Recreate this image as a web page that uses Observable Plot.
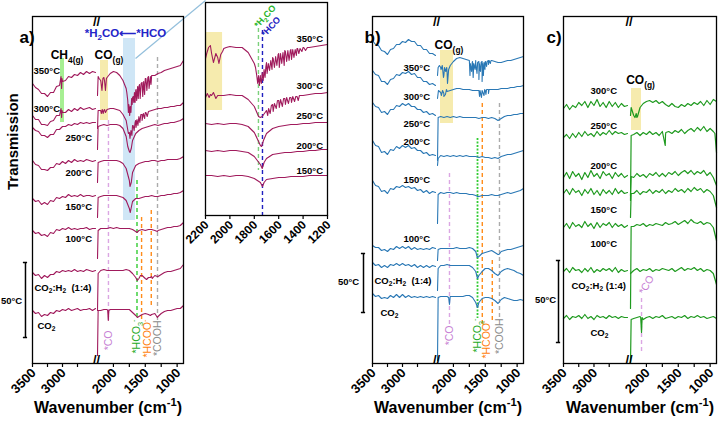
<!DOCTYPE html>
<html><head><meta charset="utf-8">
<script src="https://cdn.jsdelivr.net/npm/d3@7"></script>
<script src="https://cdn.jsdelivr.net/npm/@observablehq/plot@0.6"></script>
<style>
body{margin:0;background:#fff;}
#root{position:relative;width:720px;height:424px;overflow:hidden;}
#root svg{position:absolute;top:0;overflow:visible;}
</style></head><body><div id="root"></div>
<script>
// ---------------- DATA ----------------
const LGRID = d3.range(22).map(i => 3500 - 50 * i);
const RGRID = d3.range(28).map(i => 2250 - 50 * i);
const IGRID = d3.range(21).map(i => 2200 - 50 * i);
const XBREAK = [3500, 2450, 2250, 900];   // broken wavenumber axis

// Panel a – stacked baselines (a.u.) and dip depths (a.u., positive = lower transmission)
const aOffsets = [291, 255, 239, 203, 168, 135, 93, 54];
const a350L = [11,15,17,21,21,24,20,20,14,13,9,8,4,5,2,3,0,2,-1,1,-1,0];
const a350R = [23,8,5,5,1,-1,0,3,8,16,36,25,18,14,10,6,4,3,3,1,0,-2,-3,-4,-5,-6,-7,-12];
const a350F = [[3025,4],[3015,16],[3008,6],[2240,4],[2225,6],[2195,10],[2180,18],[2165,6],[2140,8],[2125,18],[2110,6],[1790,20],[1775,28],[1765,40],[1758,32],[1745,43],[1735,34],[1725,40],[1715,26],[1705,32],[1690,24],[1680,30],[1670,20],[1660,30],[1645,17],[1635,28],[1620,14],[1610,26],[1590,12],[1580,26],[1565,11],[1540,24],[1525,9],[1510,22],[1490,6],[1475,18],[1460,5],[1440,16],[1420,4],[1410,12]];
const a300L = [7,11,11,16,16,17,13,12,7,7,4,4,1,3,0,2,-1,1,0,-1,1,0];
const a300R = [20,2,2,1,0,0,1,2,6,12,24,17,12,8,6,4,3,2,1,0,0,-1,-1,-2,-2,-3,-3,-6];
const a300F = [[3025,0],[3015,9],[3008,2],[2240,2],[2190,5],[2175,1],[2160,5],[2140,1],[2125,4],[1765,25],[1740,30],[1725,22],[1710,27],[1690,17],[1675,22],[1660,14],[1645,19],[1630,11],[1615,17],[1600,8],[1585,14],[1570,6],[1550,12],[1530,5],[1510,10],[1490,4],[1470,8]];
const a250L = [3,6,7,11,11,13,10,10,5,5,2,2,0,1,-1,0,-2,-1,-2,-1,-2,-2];
const a250R = [25,1,0,1,0,0,0,1,4,12,27,16,9,6,4,3,2,1,0,1,0,-1,-1,-2,-2,-3,-4,-6];
const a250F = [[2240,2],[1775,22],[1740,28],[1720,24]];
const a200L = [0,4,5,9,9,10,7,7,3,4,1,3,0,2,-1,1,0,1,-1,0,1,0];
const a200R = [22,1,0,0,0,0,0,1,3,8,20,12,5,3,2,1,1,0,0,1,0,0,-1,-1,-1,-1,-2,-4];
const a200F = [[2240,2],[1740,26],[1720,22]];
const a150L = [3,6,5,9,7,9,5,6,2,3,1,2,-1,1,0,1,-1,1,0,0,1,0];
const a150R = [22,1,0,0,0,0,0,1,2,5,13,6,3,3,2,1,1,0,1,1,0,0,-1,-1,-2,-2,-3,-5];
const a150F = [[2240,2],[1735,17],[1720,12]];
const a100L = [2,5,4,7,6,8,4,5,1,2,0,1,-1,1,0,1,0,0,-1,1,0,0];
const a100R = [30,0,0,0,-1,0,-1,0,0,0,0,1,3,2,1,2,1,1,2,2,1,0,-1,-1,-2,-2,-3,-6];
const a100F = [[2240,2],[1630,4],[1310,3]];
const aMixL = [2,5,4,8,5,7,4,4,1,2,0,1,0,1,-1,1,0,1,-1,0,1,0];
const aMixR = [40,0,-1,0,0,0,0,0,0,-1,0,3,7,8,5,8,7,6,5,6,4,2,1,1,0,-1,-2,-6];
const aMixF = [[2240,3],[1625,10],[1575,5],[1480,9],[1420,7],[1390,8],[1310,6]];
const aCO2L = [1,4,3,7,5,6,3,4,1,2,0,1,-1,1,0,-1,1,0,0,-1,1,-1];
const aCO2R = [46,1,0,0,0,0,0,0,0,0,0,3,6,7,5,4,5,5,4,7,4,2,1,1,0,-1,-1,-4];
const aCO2F = [[2240,1],[2090,1],[2080,11],[2072,1],[1625,8],[1420,6],[1310,8]];
const aTempText = ["350°C","300°C","250°C","200°C","150°C","100°C","CO_{2}:H_{2}  (1:4)","CO_{2}"];
const aTempWn = [3483,3483,2950,2950,2950,2950,3467,3417];
const aTempV = [293,255,226,191,157,125,76,38];
const aDashWn = [2078,1630,1558,1406,1308];
const aDashTop = [243,183,146,153,306];
const aDashBot = [41,45,43,58,40];
const aDashCol = ["#dba6e3","#33cc33","#ff8c1a","#ff8c1a","#ababab"];
const aTagText = ["*CO","*HCO_{3}^{-}","*HCOO^{-}","*COOH"];
const aTagWn = [2078,1632,1465,1308];
const aTagV = [33,44,44,43];
const aTagCol = ["#c77fd4","#1faa1f","#ff7f0e","#8c8c8c"];
const aBandLo = [3033,2203,1842];
const aBandHi = [2967,2077,1653];
const aBandBot = [241,243,143];
const aBandTop = [305,303,325];
const aBandCol = ["#a6ef92","#f6ebae","#cfe6f6"];

// Inset (2200–1200 cm-1)
const iOffsets = [170,120,92,65,40];
const i350R = [13,8,12,3,1,2,2,7,18,30,17,12,8,5,4,3,2,2,1,0,-1];
const i350F = [[2190,8],[2175,2],[2160,0],[2135,17],[2115,8],[2090,18],[2075,9],[2060,6],[2030,2],[1790,22],[1780,30],[1772,38],[1765,30],[1758,40],[1750,32],[1742,38],[1735,27],[1727,35],[1720,24],[1712,32],[1705,21],[1695,28],[1685,18],[1675,25],[1665,15],[1655,24],[1645,13],[1635,22],[1625,11],[1615,20],[1605,9],[1595,22],[1585,8],[1575,18],[1565,7],[1555,20],[1545,6],[1535,16],[1525,5],[1515,15],[1505,5],[1495,14],[1485,4],[1475,12],[1465,4],[1455,10],[1445,3],[1435,8],[1425,3],[1410,6],[1395,2],[1380,5],[1365,2]];
const i300R = [2,0,0,0,-1,0,0,4,11,22,15,9,5,3,2,1,0,-1,-2,-2,-3];
const i300F = [[2185,-2],[2170,2],[2160,-1],[2135,-3],[2115,3],[2090,0],[1765,21],[1735,21],[1690,20],[1683,13],[1670,18],[1660,10],[1645,16],[1635,8],[1620,13],[1610,5],[1595,12],[1585,4],[1570,11],[1560,3],[1545,9],[1535,2],[1520,8],[1510,2],[1495,7],[1485,1],[1470,6],[1460,1],[1440,5],[1430,0]];
const i250R = [0,1,0,1,0,0,1,3,9,22,10,5,3,2,1,1,0,0,-1,-1,-1];
const i250F = [[1765,18],[1740,23],[1725,17]];
const i200R = [0,1,0,1,0,0,1,2,6,14,8,4,3,2,2,1,1,0,0,-1,-1];
const i200F = [[1735,18],[1720,12]];
const i150R = [0,0,1,0,1,0,0,1,3,7,4,3,2,2,1,1,1,0,0,0,0];
const i150F = [[1733,11],[1720,7]];
const iTempText = ["350°C","300°C","250°C","200°C","150°C"];
const iTempV = [177,130,100,70,45];

// Panel b
const bOffsets = [306,275,248,208,171,115,98,67];
const b350L = [-17,-13,-12,-7,-6,-3,-8,-9,-13,-13,-16,-15,-18,-16,-16,-12,-12,-8,-8,-4,-4,-2];
const b350R = [18,10,18,14,8,4,1,0,1,2,3,4,3,4,4,4,3,3,4,5,5,4,3,3,2,1,0,-1];
const b350F = [[2240,10],[2220,8],[2195,12],[2175,8],[2156,20],[2140,10],[2120,14],[2105,10],[2093,26],[2075,12],[1740,18],[1735,6],[1715,14],[1705,5],[1690,20],[1680,6],[1660,12],[1650,5],[1630,16],[1620,5],[1600,22],[1592,6],[1575,14],[1565,5],[1550,24],[1542,6],[1530,18],[1520,5],[1505,12],[1495,4],[1480,9],[1470,4],[1450,7],[1440,3],[1420,6],[1410,3]];
const b300L = [-18,-14,-13,-7,-7,-4,-9,-10,-14,-13,-16,-15,-17,-14,-15,-11,-11,-7,-7,-4,-5,-3];
const b300R = [10,4,5,3,2,1,0,0,1,1,1,2,2,2,2,2,1,1,1,1,0,0,0,-1,-1,-2,-2,-3];
const b300F = [[2235,2],[2190,7],[2170,2],[2150,8],[2125,6],[2110,1],[1590,8],[1582,2],[1560,9],[1550,2],[1520,7],[1510,1],[1490,6],[1480,1],[1450,5],[1440,1]];
const b250L = [-13,-9,-8,-3,-4,-1,-6,-6,-10,-9,-12,-10,-12,-9,-9,-6,-6,-3,-4,-1,-2,0];
const b250R = [45,1,2,1,2,1,2,1,2,2,2,2,2,3,2,2,3,2,3,5,3,1,0,0,-1,-1,-2,-2];
const b250F = [[2240,2]];
const b200L = [-15,-10,-9,-3,-4,-1,-6,-5,-9,-7,-10,-8,-10,-7,-8,-5,-5,-2,-3,0,-1,0];
const b200R = [10,0,1,0,1,0,1,0,1,0,1,1,1,2,1,2,2,3,2,3,1,0,-1,-1,-2,-3,-4,-5];
const b200F = [[2240,3]];
const b150L = [-12,-7,-6,-1,-2,1,-4,-3,-6,-5,-7,-5,-6,-4,-5,-2,-3,0,-2,1,-1,0];
const b150R = [31,0,1,0,0,1,0,1,1,1,2,2,3,4,3,3,3,2,3,3,2,1,0,1,0,-1,-2,-4];
const b150F = [[2240,2],[1620,4]];
const b100L = [-3,-1,-1,2,1,3,0,1,-2,0,-2,0,-2,1,-1,1,0,1,0,1,-1,0];
const b100R = [12,0,0,0,0,0,-1,0,0,0,-1,0,3,8,5,4,3,2,4,6,3,2,1,1,0,-1,-2,-3];
const b100F = [[2240,1],[1625,9],[1285,6]];
const bMixL = [-3,0,-1,2,0,2,-1,0,-2,0,-2,0,-1,1,-1,2,0,2,0,2,0,1];
const bMixR = [25,0,0,-1,0,0,0,0,0,0,0,2,6,10,6,3,3,5,8,10,6,4,3,4,5,7,8,10];
const bMixF = [[2240,3],[1622,13]];
const bCO2L = [-3,0,-1,2,1,2,-1,1,-2,1,-2,1,-1,1,0,1,0,1,0,1,0,1];
const bCO2R = [64,0,0,0,0,0,0,0,0,-1,-1,1,6,6,2,1,1,2,4,7,3,1,2,3,4,4,3,4];
const bCO2F = [[2240,1],[2075,1],[2062,8],[2052,1],[1622,11]];
const bTempText = ["350°C","300°C","250°C","200°C","150°C","100°C","CO_{2}:H_{2}  (1:4)","CO_{2}"];
const bTempWn = [2983,2983,2983,2983,2983,2983,3467,3367];
const bTempV = [296,267,240,222,184,125,83,51];
const bDashWn = [2062,1547,1390,1277];
const bDashTop = [190,260,103,260];
const bDashBot = [38,38,41,43];
const bDashCol = ["#dba6e3","#ff8c1a","#ff8c1a","#ababab"];
const bDotWn = [1622], bDotTop = [225], bDotBot = [45];
const bTagText = ["*CO","*HCO_{3}^{-}","*HCOO^{-}","*COOH"];
const bTagWn = [2062,1622,1481,1277];
const bTagV = [38,45,43,45];
const bBandLo = [2203], bBandHi = [1999], bBandBot = [240], bBandTop = [313];

// Panel c
const cOffsets = [258,230,188,171,138,93,46];
const c300L = [3,-1,4,0,2,-3,0,-4,2,-4,0,-6,1,-3,2,-4,1,-3,2,-2,1,0];
const c300R = [10,10,12,2,-2,-4,-5,-3,-5,-2,-4,-1,1,-2,1,2,-1,1,-2,0,-3,-1,-4,0,-5,-1,-6,-4];
const c300F = [[2240,2],[2180,12],[2160,8],[2140,11]];
const c250L = [4,1,5,0,4,-1,3,-2,2,0,3,-2,2,-1,1,-3,1,-2,0,-1,1,0];
const c250R = [67,1,-1,2,-1,1,-2,1,-1,2,-2,1,-2,0,-3,-1,-4,0,-3,-5,-2,-6,-3,-7,-2,-5,-2,19];
const c250F = [[2240,2],[1705,12],[1695,-1],[925,0]];
const c200L = [2,-3,3,-4,1,-2,4,-3,2,-5,1,-2,3,-4,0,-2,3,-3,1,-2,2,0];
const c200R = [20,2,-2,1,-1,2,-2,0,-3,1,-2,1,-3,-1,-4,0,-3,-5,-2,-5,-1,-4,-2,-5,0,-3,2,10];
const c200F = [[2240,1]];
const c150L = [1,-3,2,-4,0,-2,3,-3,1,-4,2,-2,3,-3,1,-2,2,-4,1,-2,1,0];
const c150R = [25,1,-2,2,-1,0,-3,1,-2,0,-3,1,-2,0,-4,-1,-3,0,-4,-1,-5,-2,-4,0,-3,-1,3,15];
const c150F = [[2240,1]];
const c100L = [2,-2,3,-3,1,-1,2,-4,1,-2,3,-3,2,-2,0,-3,2,-2,1,-1,2,0];
const c100R = [83,1,-1,0,-2,1,-1,0,-2,-1,0,-3,-1,-2,-4,-1,-3,-5,-2,-6,-3,-2,-4,-1,-3,-2,2,15];
const c100F = [[2240,1]];
const cMixL = [1,-2,2,-3,0,-1,2,-2,1,-3,2,-1,1,-2,0,-2,1,-3,2,-1,1,0];
const cMixR = [3,0,-2,1,-1,0,-2,1,-1,0,-2,-1,0,-2,1,-1,-3,0,-2,-1,-3,0,-2,1,-1,0,3,14];
const cMixF = [];
const cCO2L = [1,-2,2,-1,0,-2,1,-3,1,-1,2,-2,0,-1,1,-2,0,-1,1,-1,0,0];
const cCO2R = [46,1,0,-1,2,0,-1,1,-1,0,-2,1,0,-1,1,-1,0,-2,1,-1,0,-2,0,-1,1,0,-1,1];
const cCO2F = [[2240,2],[2090,0],[2077,15],[2068,0]];
const cTempText = ["300°C","250°C","200°C","150°C","100°C","CO_{2}:H_{2} (1:4)","CO_{2}"];
const cTempWn = [3057,3057,3057,3057,3057,3369,3057];
const cTempV = [273,238,198,154,120,78,31];

const xTicks = [3500,3000,2000,1500,1000];
const xMinor = [3250,2750,1750,1250];
const iTicks = [2200,2000,1800,1600,1400,1200];

// ---------------- BUILD ----------------
const wxAB = d3.scaleLinear().domain(XBREAK).range([0, 63, 65, 151]);
const wxC = d3.scaleLinear().domain(XBREAK).range([0, 64, 67, 153]);
const wxI = d3.scaleLinear().domain([2200, 1200]).range([0, 122]);

function spectrum(key, off, L, R, F, rgrid) {
  const pts = [];
  (L || []).forEach((d, i) => pts.push([LGRID[i], d]));
  R.forEach((d, i) => pts.push([rgrid[i], d]));
  (F || []).forEach(p => pts.push(p));
  return pts.map(([wn, d]) => ({key: key + (wn > 2350 ? "L" : "R"), wn, v: off - d}))
            .sort((a, b) => b.wn - a.wn);
}
const aData = [
  spectrum("350", aOffsets[0], a350L, a350R, a350F, RGRID),
  spectrum("300", aOffsets[1], a300L, a300R, a300F, RGRID),
  spectrum("250", aOffsets[2], a250L, a250R, a250F, RGRID),
  spectrum("200", aOffsets[3], a200L, a200R, a200F, RGRID),
  spectrum("150", aOffsets[4], a150L, a150R, a150F, RGRID),
  spectrum("100", aOffsets[5], a100L, a100R, a100F, RGRID),
  spectrum("mix", aOffsets[6], aMixL, aMixR, aMixF, RGRID),
  spectrum("co2", aOffsets[7], aCO2L, aCO2R, aCO2F, RGRID)
].flat();
const iData = [
  spectrum("350", iOffsets[0], null, i350R, i350F, IGRID),
  spectrum("300", iOffsets[1], null, i300R, i300F, IGRID),
  spectrum("250", iOffsets[2], null, i250R, i250F, IGRID),
  spectrum("200", iOffsets[3], null, i200R, i200F, IGRID),
  spectrum("150", iOffsets[4], null, i150R, i150F, IGRID)
].flat();
const bData = [
  spectrum("350", bOffsets[0], b350L, b350R, b350F, RGRID),
  spectrum("300", bOffsets[1], b300L, b300R, b300F, RGRID),
  spectrum("250", bOffsets[2], b250L, b250R, b250F, RGRID),
  spectrum("200", bOffsets[3], b200L, b200R, b200F, RGRID),
  spectrum("150", bOffsets[4], b150L, b150R, b150F, RGRID),
  spectrum("100", bOffsets[5], b100L, b100R, b100F, RGRID),
  spectrum("mix", bOffsets[6], bMixL, bMixR, bMixF, RGRID),
  spectrum("co2", bOffsets[7], bCO2L, bCO2R, bCO2F, RGRID)
].flat();
const cData = [
  spectrum("300", cOffsets[0], c300L, c300R, c300F, RGRID),
  spectrum("250", cOffsets[1], c250L, c250R, c250F, RGRID),
  spectrum("200", cOffsets[2], c200L, c200R, c200F, RGRID),
  spectrum("150", cOffsets[3], c150L, c150R, c150F, RGRID),
  spectrum("100", cOffsets[4], c100L, c100R, c100F, RGRID),
  spectrum("mix", cOffsets[5], cMixL, cMixR, cMixF, RGRID),
  spectrum("co2", cOffsets[6], cCO2L, cCO2R, cCO2F, RGRID)
].flat();

const FONT = "'Liberation Sans', Arial, Helvetica, sans-serif";
const baseStyle = {background: "transparent", fontFamily: FONT, fontWeight: "bold", fontSize: "13px", color: "black", overflow: "visible"};

const bands = (wx, lo, hi, bot, top, cols) => lo.map((l, i) =>
  Plot.rect([{x1: wx(l), x2: wx(hi[i]), y1: bot[i], y2: top[i]}], {x1: "x1", x2: "x2", y1: "y1", y2: "y2", fill: cols[i]}));
const dashes = (wx, wn, top, bot, cols, dash, w) => wn.map((x, i) =>
  Plot.ruleX([{x: wx(x), y1: top[i], y2: bot[i]}], {x: "x", y1: "y1", y2: "y2", stroke: cols[i], strokeDasharray: dash, strokeWidth: w}));
const tags = (wx, txt, wn, v, cols, fs) => txt.map((t, i) =>
  Plot.text([{t, x: wx(wn[i]), y: v[i]}], {x: "x", y: "y", text: "t", rotate: -90, textAnchor: "end", fill: cols[i], fontSize: fs, fontWeight: "normal"}));
const temps = (wx, txt, wn, v) => Plot.text(txt.map((t, i) => ({t, x: wx(wn[i]), y: v[i]})), {x: "x", y: "y", text: "t", textAnchor: "start", fontSize: 9.5});
const bracket = (wx, x, top, bot, lx, ly) => [
  Plot.ruleX([{x: wx(x), y1: top, y2: bot}], {x: "x", y1: "y1", y2: "y2", stroke: "black", strokeWidth: 1.5}),
  Plot.ruleY([{y: top, x1: wx(x + 35), x2: wx(x - 35)}, {y: bot, x1: wx(x + 35), x2: wx(x - 35)}], {y: "y", x1: "x1", x2: "x2", stroke: "black", strokeWidth: 1.5}),
  Plot.text([{t: "50°C", x: wx(lx), y: ly}], {x: "x", y: "y", text: "t", fontSize: 9.5})
];
const label = (wx, t, wn, v, opts) => Plot.text([{t, x: wx(wn), y: v}], {x: "x", y: "y", text: "t", ...opts});
const ROT = "\u2063"; // invisible marker: tick labels that get a -45° rotation
const tickLabels = (wx, major, fs) =>
  Plot.text(major.map(t => ({t: String(t) + ROT, x: wx(t), y: 0})), {x: "x", y: "y", text: "t", textAnchor: "end", fontSize: fs});
const tickAxis = (wx, major, minor) => [
  Plot.frame({stroke: "black", strokeWidth: 1.3}),
  Plot.axisX({ticks: [...major, ...minor].map(wx), tickSize: 4, tickFormat: () => "", label: null, strokeWidth: 1.2})
];
const axisMarks = (wx) => [
  ...tickAxis(wx, xTicks, xMinor),
  tickLabels(wx, xTicks, 13),
  Plot.text([{t: "//", x: wx(2350)}], {x: "x", text: "t", frameAnchor: "top", fontSize: 13}),
  Plot.text([{t: "//", x: wx(2350)}], {x: "x", text: "t", frameAnchor: "bottom", fontSize: 13}),
  Plot.text(["Wavenumber (cm^{-1})"], {frameAnchor: "bottom", dy: 49, fontSize: 16})
];

// post-processing: sub/superscripts and rotated tick labels
function rich(svg) {
  d3.select(svg).selectAll("text").each(function () {
    const el = this, s = el.textContent;
    if (s.endsWith(ROT)) {
      // tick label: anchor its end just below the tick and rotate by -45°
      let x = +el.getAttribute("x") || 0, y = +el.getAttribute("y") || 0;
      const tr = el.getAttribute("transform");
      const mt = tr && tr.match(/translate\(([-\d.e]+),\s*([-\d.e]+)\)/);
      if (mt) { x += +mt[1]; y += +mt[2]; }
      el.removeAttribute("x"); el.removeAttribute("y");
      el.setAttribute("transform", `translate(${x + 1},${y + 7}) rotate(-45)`);
      el.setAttribute("text-anchor", "end");
      el.setAttribute("dy", "0.35em");
      el.textContent = s.slice(0, -ROT.length);
      return;
    }
    if (!/[_^]\{/.test(s)) return;
    const fs = parseFloat(getComputedStyle(el).fontSize) || 12;
    el.textContent = "";
    const re = /([_^])\{([^}]*)\}/g;
    let last = 0, m, cur = 0;
    const add = (t, mode) => {
      const ts = document.createElementNS("http://www.w3.org/2000/svg", "tspan");
      ts.textContent = t;
      const target = mode === "_" ? 0.28 * fs : mode === "^" ? -0.38 * fs : 0;
      if (target !== cur) ts.setAttribute("dy", (target - cur).toFixed(2));
      cur = target;
      if (mode) ts.setAttribute("font-size", (0.7 * fs).toFixed(2));
      el.appendChild(ts);
    };
    while ((m = re.exec(s))) { if (m.index > last) add(s.slice(last, m.index)); add(m[2], m[1]); last = re.lastIndex; }
    if (last < s.length) add(s.slice(last));
  });
}
function place(svg, left) {
  svg.style.left = left + "px";
  document.getElementById("root").appendChild(svg);
  rich(svg);
}
const lineOf = (wx, data, color, w) => Plot.line(data, {x: d => wx(d.wn), y: "v", z: "key", stroke: color, strokeWidth: w});

// ---------- Inset ----------
const svgI = Plot.plot({
  width: 150, height: 252, marginLeft: 15, marginRight: 13, marginTop: 2, marginBottom: 37,
  style: {...baseStyle, fontSize: "12px"},
  x: {domain: [0, 122]}, y: {domain: [0, 213], axis: null},
  marks: [
    ...bands(wxI, [2200], [2060], [105], [183], ["#f6ebae"]),
    ...dashes(wxI, [1766], [187], [45], ["#7bd07b"], "4,3", 1.4),
    ...dashes(wxI, [1733], [185], [0], ["#2020c0"], "4,3", 1.4),
    lineOf(wxI, iData, "#a01a5c", 1.1),
    ...tickAxis(wxI, iTicks, []),
    tickLabels(wxI, iTicks, 12),
    Plot.text(iTempText.map((t, i) => ({t, x: wxI(1454), y: iTempV[i]})), {x: "x", y: "y", text: "t", textAnchor: "start", fontSize: 9.5}),
    label(wxI, "*H_{2}CO", 1785, 189, {rotate: -48, textAnchor: "start", fontSize: 9, fill: "#2ab52a"}),
    label(wxI, "*HCO", 1728, 180, {rotate: -48, textAnchor: "start", fontSize: 9, fill: "#2020c0"})
  ]
});
place(svgI, 190);

// ---------- Panel a ----------
const svgA = Plot.plot({
  width: 215, height: 424, marginLeft: 32, marginRight: 32, marginTop: 16, marginBottom: 61,
  style: baseStyle, x: {domain: [0, 151]}, y: {domain: [0, 347], axis: null},
  marks: [
    ...bands(wxAB, aBandLo, aBandHi, aBandBot, aBandTop, aBandCol),
    Plot.link([{x1: wxAB(1653), y1: 305, x2: wxAB(555), y2: 363}], {x1: "x1", y1: "y1", x2: "x2", y2: "y2", stroke: "#93bfdc", strokeWidth: 1.2}),
    ...dashes(wxAB, aDashWn, aDashTop, aDashBot, aDashCol, "4,3", 1.4),
    lineOf(wxAB, aData, "#a01a5c", 1.1),
    ...axisMarks(wxAB),
    temps(wxAB, aTempText, aTempWn, aTempV),
    ...tags(wxAB, aTagText, aTagWn, aTagV, aTagCol, 10.5),
    label(wxAB, "CH_{4(g)}", 2925, 308, {fontSize: 12}),
    label(wxAB, "CO_{(g)}", 2070, 308, {fontSize: 12}),
    label(wxAB, "*H_{2}CO⟵*HCO", 1810, 330, {fontSize: 11.5, fill: "#2424c8"}),
    ...bracket(wxAB, 3617, 101, 26, 3850, 63),
    Plot.text(["Transmission"], {frameAnchor: "left", dx: -19, rotate: -90, fontSize: 15}),
    Plot.text(["a)"], {frameAnchor: "top-left", dx: -13, dy: 14, fontSize: 17})
  ]
});
place(svgA, 0);

// ---------- Panel b ----------
const svgB = Plot.plot({
  width: 200, height: 424, marginLeft: 32, marginRight: 17, marginTop: 16, marginBottom: 61,
  style: baseStyle, x: {domain: [0, 151]}, y: {domain: [0, 347], axis: null},
  marks: [
    ...bands(wxAB, bBandLo, bBandHi, bBandBot, bBandTop, ["#f6ebae"]),
    ...dashes(wxAB, bDashWn, bDashTop, bDashBot, bDashCol, "4,3", 1.4),
    ...dashes(wxAB, bDotWn, bDotTop, bDotBot, ["#33cc33"], "2,1.5", 1.8),
    lineOf(wxAB, bData, "#2a78b5", 1.1),
    ...axisMarks(wxAB),
    temps(wxAB, bTempText, bTempWn, bTempV),
    ...tags(wxAB, bTagText, bTagWn, bTagV, aTagCol, 10.5),
    label(wxAB, "CO_{(g)}", 2070, 318, {fontSize: 12}),
    ...bracket(wxAB, 3650, 110, 51, 3900, 82),
    Plot.text(["b)"], {frameAnchor: "top-left", dx: -8, dy: 14, fontSize: 17})
  ]
});
place(svgB, 340);

// ---------- Panel c ----------
const svgC = Plot.plot({
  width: 189, height: 424, marginLeft: 32, marginRight: 4, marginTop: 16, marginBottom: 61,
  style: baseStyle, x: {domain: [0, 153]}, y: {domain: [0, 347], axis: null},
  marks: [
    ...bands(wxC, [2234], [2077], [233], [275], ["#f6ebae"]),
    ...dashes(wxC, [2077], [65], [10], ["#dba6e3"], "4,3", 1.4),
    lineOf(wxC, cData, "#1f9a1f", 1.2),
    ...axisMarks(wxC),
    temps(wxC, cTempText, cTempWn, cTempV),
    label(wxC, "CO_{(g)}", 2093, 283, {fontSize: 12}),
    label(wxC, "*CO", 2077, 70, {rotate: -60, textAnchor: "start", fontSize: 10.5, fontWeight: "normal", fill: "#c77fd4"}),
    ...bracket(wxC, 3582, 103, 21, 3795, 64),
    Plot.text(["c)"], {frameAnchor: "top-left", dx: -17, dy: 14, fontSize: 17})
  ]
});
place(svgC, 531);
</script></body></html>
